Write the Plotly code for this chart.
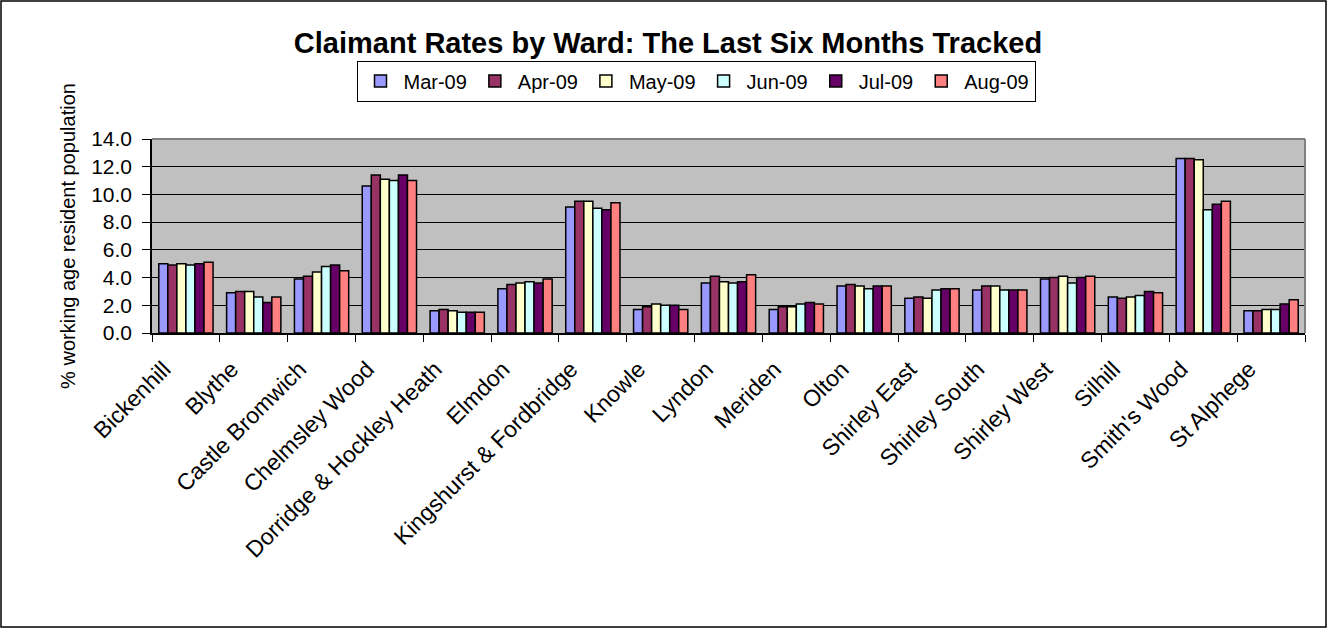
import plotly.graph_objects as go

wards = ["Bickenhill", "Blythe", "Castle Bromwich", "Chelmsley Wood",
         "Dorridge & Hockley Heath", "Elmdon", "Kingshurst & Fordbridge",
         "Knowle", "Lyndon", "Meriden", "Olton", "Shirley East",
         "Shirley South", "Shirley West", "Silhill", "Smith's Wood", "St Alphege"]

months = ["Mar-09", "Apr-09", "May-09", "Jun-09", "Jul-09", "Aug-09"]

mar_09 = [5.0, 2.9, 3.9, 10.6, 1.6, 3.2, 9.1, 1.7, 3.6, 1.7, 3.4, 2.5, 3.1, 3.9, 2.6, 12.6, 1.6]
apr_09 = [4.9, 3.0, 4.1, 11.4, 1.7, 3.5, 9.5, 1.9, 4.1, 1.9, 3.5, 2.6, 3.4, 4.0, 2.5, 12.6, 1.6]
may_09 = [5.0, 3.0, 4.4, 11.1, 1.6, 3.6, 9.5, 2.1, 3.7, 1.9, 3.4, 2.5, 3.4, 4.1, 2.6, 12.5, 1.7]
jun_09 = [4.9, 2.6, 4.8, 11.0, 1.5, 3.7, 9.0, 2.0, 3.6, 2.1, 3.2, 3.1, 3.1, 3.6, 2.7, 8.9, 1.7]
jul_09 = [5.0, 2.2, 4.9, 11.4, 1.5, 3.6, 8.9, 2.0, 3.7, 2.2, 3.4, 3.2, 3.1, 4.0, 3.0, 9.3, 2.1]
aug_09 = [5.1, 2.6, 4.5, 11.0, 1.5, 3.9, 9.4, 1.7, 4.2, 2.1, 3.4, 3.2, 3.1, 4.1, 2.9, 9.5, 2.4]

series = [mar_09, apr_09, may_09, jun_09, jul_09, aug_09]
colors = ["#9999FF", "#993366", "#FFFFCC", "#CCFFFF", "#660066", "#FF8080"]

FONT = "Liberation Sans, Arial, sans-serif"

fig = go.Figure()
for name, vals, col in zip(months, series, colors):
    fig.add_trace(go.Bar(
        name=name, x=wards, y=vals,
        marker=dict(color=col, line=dict(color="black", width=1.5)),
    ))

W, H = 1327, 628
ml, mr, mt, mb = 152, 22, 139, 295
pw, ph = W - ml - mr, H - mt - mb

fig.update_layout(
    width=W, height=H,
    margin=dict(l=ml, r=mr, t=mt, b=mb, autoexpand=False),
    paper_bgcolor="white",
    plot_bgcolor="#C0C0C0",
    barmode="group",
    bargap=0.2,
    bargroupgap=0,
    font=dict(family=FONT, color="black"),
    title=dict(
        text="<b>Claimant Rates by Ward: The Last Six Months Tracked</b>",
        x=(668 - ml) / pw, xanchor="center", y=1 - 43 / H, yanchor="middle",
        xref="paper",
        font=dict(family=FONT, size=29, color="black"),
    ),
    legend=dict(
        orientation="h",
        x=(696 - ml) / pw, xanchor="center",
        y=1 + (139 - 81) / ph, yanchor="middle",
        bordercolor="black", borderwidth=1,
        bgcolor="white",
        font=dict(family=FONT, size=20, color="black"),
        itemwidth=36,
        traceorder="normal",
    ),
    xaxis=dict(
        tickangle=-45,
        tickfont=dict(family=FONT, size=23, color="black"),
        ticks="outside", tickson="boundaries", ticklen=7,
        tickcolor="black",
        ticklabelstandoff=12, ticklabelshift=-22,
        showline=True, linecolor="black", linewidth=1.5,
        showgrid=False,
        range=[-0.5, len(wards) - 0.5],
    ),
    yaxis=dict(
        range=[0, 14], dtick=2, tickformat=".1f",
        tickfont=dict(family=FONT, size=21, color="black"),
        ticks="outside", ticklen=8, tickcolor="black",
        ticklabelstandoff=6,
        showline=True, linecolor="black", linewidth=1.5,
        showgrid=True, gridcolor="black", gridwidth=1,
        zeroline=False,
        title=dict(text="% working age resident population",
                   font=dict(family=FONT, size=20, color="black"),
                   standoff=10),
    ),
    shapes=[
        dict(type="rect", xref="paper", yref="paper",
             x0=(1 - ml) / pw, x1=(W - 1 - ml) / pw,
             y0=-(mb - 1) / ph, y1=1 + (mt - 1) / ph,
             line=dict(color="black", width=1.5), fillcolor="rgba(0,0,0,0)",
             layer="above"),
        dict(type="line", xref="paper", yref="paper",
             x0=0, x1=1, y0=1, y1=1,
             line=dict(color="#808080", width=2)),
        dict(type="line", xref="paper", yref="paper",
             x0=1, x1=1, y0=0, y1=1,
             line=dict(color="#808080", width=2)),
    ],
)

fig.write_html("out.html", config={"displayModeBar": False},
               post_script="document.body.style.margin='0';document.body.style.overflow='hidden';")
